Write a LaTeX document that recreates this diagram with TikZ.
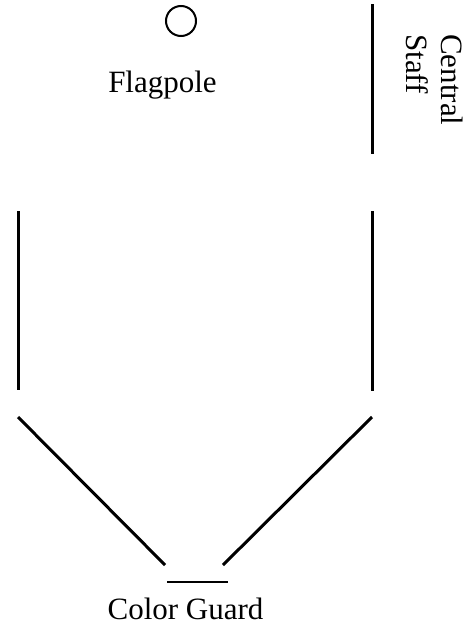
\documentclass[tikz,border=0pt]{standalone}
\usepackage{fontspec}
\setmainfont{Liberation Serif}
\begin{document}
\begin{tikzpicture}[x=1pt,y=-1pt,
  rowline/.style={line width=3pt},
  lbl/.style={inner sep=0pt,font=\fontsize{31}{35}\selectfont}]
\useasboundingbox (0,0) rectangle (469,629);
% flagpole
\node[draw,circle,line width=2pt,minimum size=30pt,inner sep=0pt] (pole) at (181,21) {};
\node[lbl,anchor=base] (poletxt) at (162.5,92) {Flagpole};
% central staff
\coordinate (csT) at (372,4);
\coordinate (csB) at (372,154);
\draw[rowline] (csT) -- (csB);
\node[lbl,rotate=-90,align=left,anchor=north west] (cstxt) at (463,34) {Central\\Staff};
% side columns
\coordinate (lT) at (18,211);
\coordinate (lB) at (18,390);
\coordinate (rT) at (372,211);
\coordinate (rB) at (372,391);
\draw[rowline] (lT) -- (lB);
\draw[rowline] (rT) -- (rB);
% diagonals
\coordinate (ldT) at (18,417);
\coordinate (ldB) at (165,565);
\coordinate (rdT) at (372,417);
\coordinate (rdB) at (223,565);
\draw[rowline] (ldT) -- (ldB);
\draw[rowline] (rdT) -- (rdB);
% color guard
\coordinate (cgL) at (167,582);
\coordinate (cgR) at (228,582);
\draw[line width=2.5pt] (cgL) -- (cgR);
\node[lbl,anchor=base] (cgtxt) at (185.5,619) {Color Guard};
\end{tikzpicture}
\end{document}
